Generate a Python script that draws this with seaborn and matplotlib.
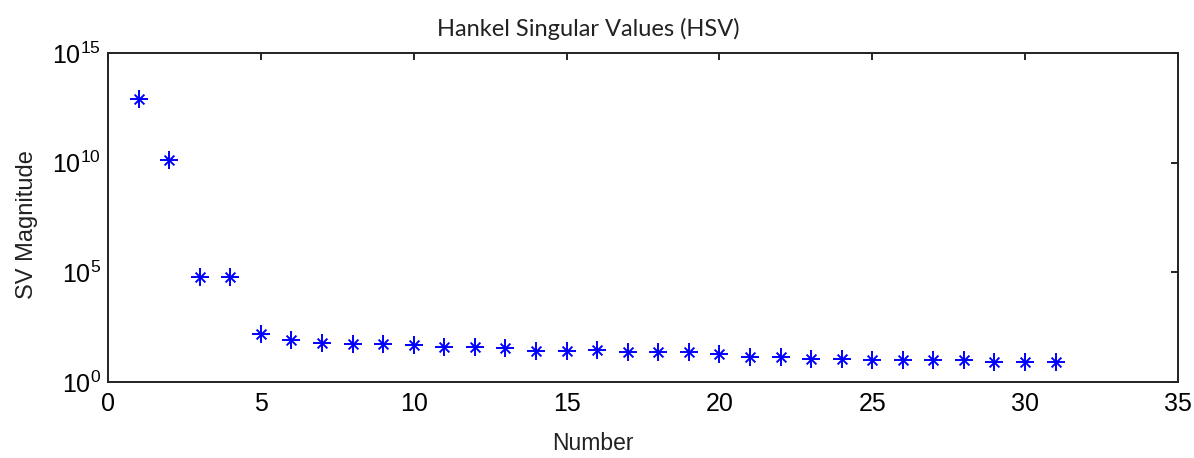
import numpy as np
import pandas as pd
import matplotlib
matplotlib.use('Agg')
import matplotlib.pyplot as plt
import seaborn as sns

# Hankel singular values
number = list(range(1, 32))
sv_mag = [8e12, 1.4e10, 6e4, 6e4, 155, 83, 62, 52, 52, 49,
          41, 41, 35, 27, 27, 29, 23, 23, 23, 19,
          14, 13.5, 11.6, 11.6, 9.8, 9.8, 9.8, 9.8, 8.2, 8.2, 8.2]

df = pd.DataFrame({'Number': number, 'SV': sv_mag})

sns.set_style('white')
plt.rcParams['font.family'] = ['Liberation Sans', 'DejaVu Sans']
plt.rcParams['mathtext.fontset'] = 'custom'
plt.rcParams['mathtext.rm'] = 'Liberation Sans'

fig = plt.figure(figsize=(11.94, 4.58), dpi=100)
ax = fig.add_axes([0.0905, 0.166, 0.896, 0.718])

# MATLAB-like asterisk: '+' with a smaller 'x' on top
sns.scatterplot(data=df, x='Number', y='SV', marker='+', s=170, color='#0000ff',
                linewidth=1.4, ax=ax, legend=False, zorder=3)
sns.scatterplot(data=df, x='Number', y='SV', marker='x', s=50, color='#0000ff',
                linewidth=1.4, ax=ax, legend=False, zorder=3)

ax.set_yscale('log')
ax.set_xlim(0, 35)
ax.set_ylim(1e0, 1e15)
ax.set_xticks(range(0, 36, 5))
ax.set_yticks([1e0, 1e5, 1e10, 1e15])
ax.yaxis.set_minor_locator(matplotlib.ticker.NullLocator())

ax.tick_params(direction='in', length=5, width=1.2, top=True, right=True,
               labelsize=18, colors='black')
ax.tick_params(axis='x', pad=7)
ax.tick_params(axis='y', pad=5)
for sp in ax.spines.values():
    sp.set_visible(True)
    sp.set_color('#222222')
    sp.set_linewidth(1.4)

# labels and title sit near the figure centre, a bit left of the axes centre
ax.set_xlabel('Number', fontsize=16.5, color='#222222', labelpad=12)
ax.xaxis.label.set_x(0.453)
ax.set_ylabel('SV Magnitude', fontsize=17, color='#222222', labelpad=10)
ax.yaxis.label.set_y(0.48)
ax.set_title('Hankel Singular Values (HSV)', fontsize=17, family=['Lato', 'DejaVu Sans'],
             color='#222222', pad=12, x=0.449)

fig.savefig('out.png', dpi=100)
